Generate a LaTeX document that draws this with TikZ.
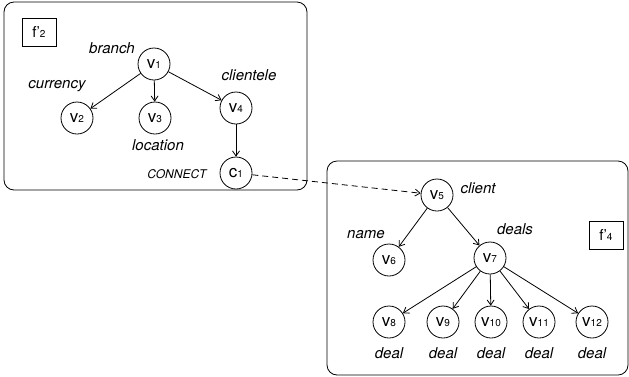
\documentclass[tikz,border=0pt]{standalone}
\usepackage{fontspec}
\setmainfont{TeX Gyre Heros}
\usetikzlibrary{arrows.meta}

\newcommand{\vx}[2]{#1{\fontsize{10}{10}\selectfont #2}}

\tikzset{
  vtx/.style={draw, circle, minimum size=32pt, inner sep=0pt, font=\fontsize{17}{17}\selectfont},
  lbl/.style={font=\fontsize{15}{15}\selectfont\itshape},
  frag/.style={draw, rounded corners=10pt},
  tag/.style={draw, minimum width=34pt, minimum height=28pt, inner sep=0pt, font=\fontsize{15}{15}\selectfont},
  edge/.style={-{Straight Barb[length=5pt,width=7pt]}}
}

\begin{document}
\begin{tikzpicture}[x=1pt,y=-1pt,line width=0.8pt]
\useasboundingbox (0,0) rectangle (629,376);

% fragment f'2
\draw[frag] (4,2) rectangle (307,190);
\node[tag] (t2) at (39,32) {f'{\fontsize{10}{10}\selectfont 2}};

\node[vtx] (v1) at (154,64) {\vx{v}{1}};
\node[vtx] (v2) at (77,118) {\vx{v}{2}};
\node[vtx] (v3) at (155,118) {\vx{v}{3}};
\node[vtx] (v4) at (236,108) {\vx{v}{4}};
\node[vtx] (c1) at (236,173) {\vx{c}{1}};

\node[lbl] (l1) at (112,48) {branch};
\node[lbl] (l2) at (57,86) {currency};
\node[lbl] (l3) at (158,145) {location};
\node[lbl] (l4) at (249,75) {clientele};
\node[font=\fontsize{12}{12}\selectfont\itshape] (l5) at (177,174) {CONNECT};

\draw[edge] (v1) -- (v2);
\draw[edge] (v1) -- (v3);
\draw[edge] (v1) -- (v4);
\draw[edge] (v4) -- (c1);

% fragment f'4
\draw[frag] (327,161) rectangle (628,375);
\node[tag] (t4) at (606,235) {f'{\fontsize{10}{10}\selectfont 4}};

\node[vtx] (v5) at (437,195) {\vx{v}{5}};
\node[vtx] (v6) at (389,260) {\vx{v}{6}};
\node[vtx] (v7) at (490,258) {\vx{v}{7}};
\node[vtx] (v8) at (389,322) {\vx{v}{8}};
\node[vtx] (v9) at (443,322) {\vx{v}{9}};
\node[vtx] (v10) at (491,322) {\vx{v}{10}};
\node[vtx] (v11) at (539,322) {\vx{v}{11}};
\node[vtx] (v12) at (592,322) {\vx{v}{12}};

\node[lbl] (l6) at (478,188) {client};
\node[lbl] (l7) at (515,229) {deals};
\node[lbl] (l8) at (366,235) {name};
\foreach \n/\x in {8/389,9/443,10/491,11/539,12/592}
  \node[lbl] (d\n) at (\x,353) {deal};

\draw[edge] (v5) -- (v6);
\draw[edge] (v5) -- (v7);
\foreach \n in {8,...,12}
  \draw[edge] (v7) -- (v\n);

% link between fragments
\draw[edge, dash pattern=on 6pt off 4pt] (c1) -- (v5);
\end{tikzpicture}
\end{document}
